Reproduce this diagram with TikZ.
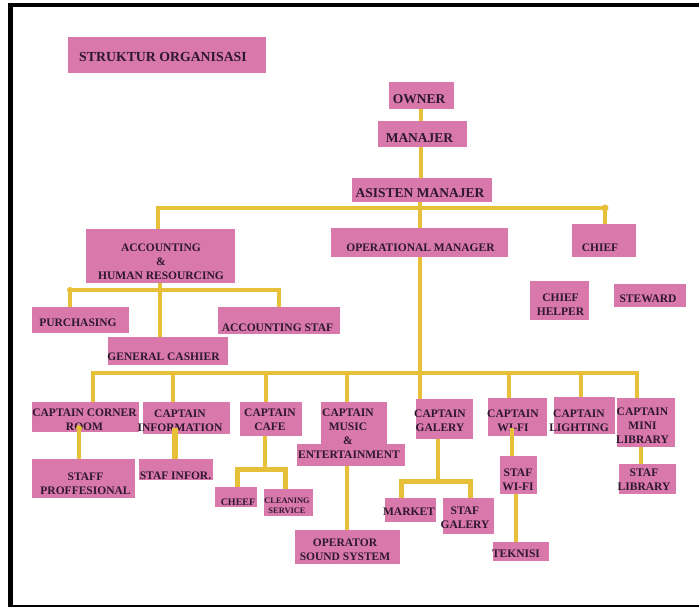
\documentclass[tikz,border=0pt]{standalone}
\usepackage{fontspec}
\setmainfont{Liberation Serif}
\usetikzlibrary{calc}
\definecolor{pinkc}{RGB}{217,120,171}
\definecolor{yel}{RGB}{229,192,56}
\definecolor{txt}{RGB}{45,24,45}
\newcommand\ftitle{\fontsize{13.8}{15}\selectfont\bfseries}
\newcommand\fbig{\fontsize{13.5}{15}\selectfont\bfseries}
\newcommand\fmid{\fontsize{11.5}{13.9}\selectfont\bfseries}
\newcommand\fsmall{\fontsize{10}{12}\selectfont\bfseries}
\newcommand\ftiny{\fontsize{8.4}{10}\selectfont\bfseries}
\tikzset{
  box/.style={fill=pinkc, inner sep=0pt, draw=none},
  lab/.style={inner sep=0pt, align=center, text=txt, font=\fmid},
  conn/.style={draw=yel, line width=4pt, line join=miter},
}
% \bxx[label options]{name}{x1}{y1}{x2}{y2}{text x}{text y}{text}
\newcommand\bxx[9][]{%
  \node[box, minimum width={#5-#3}, minimum height={#6-#4}] (#2) at ({(#3+#5)/2},{(#4+#6)/2}) {};
  \node[lab,#1] (#2-t) at (#7,#8) {#9};}
\begin{document}
\begin{tikzpicture}[x=1pt,y=-1pt]
\useasboundingbox (0,0) rectangle (699,607);
\fill[white] (0,0) rectangle (699,607);
\fill[black] (8,3) rectangle (699,7.5);
\fill[black] (8,3) rectangle (12.5,607);
\fill[black] (8,604.5) rectangle (699,607);

\bxx[font=\ftitle]{title}{68}{37}{266}{73}{163}{57}{STRUKTUR ORGANISASI}
\bxx[font=\fbig]{owner}{389}{82}{454}{109}{419}{99}{OWNER}
\bxx[font=\fbig]{manajer}{378}{121}{467}{147}{419.5}{138}{MANAJER}
\bxx[font=\fbig]{asisten}{352}{178}{492}{202}{420}{193}{ASISTEN MANAJER}
\bxx{acc}{86}{229}{235}{283}{161}{262}{ACCOUNTING\\\&\\HUMAN RESOURCING}
\bxx{opm}{331}{228}{508}{257}{420.5}{247.5}{OPERATIONAL MANAGER}
\bxx{chief}{572}{224}{636}{257}{600}{248}{CHIEF}
\bxx{purch}{32}{307}{129}{333}{78}{323}{PURCHASING}
\bxx{accstaf}{218}{307}{340}{334}{277.5}{327.5}{ACCOUNTING STAF}
\bxx{gcash}{108}{337}{228}{365}{163.5}{357}{GENERAL CASHIER}
\bxx{chelper}{530}{281}{589}{320}{560.5}{304.5}{CHIEF\\HELPER}
\bxx{steward}{614}{284}{686}{307}{648}{299}{STEWARD}
\bxx{ccr}{32}{402}{139}{432}{84.5}{420}{CAPTAIN CORNER\\ROOM}
\bxx{cinfo}{143}{402}{230}{434}{180}{420.5}{CAPTAIN\\INFORMATION}
\bxx{ccafe}{240}{402}{302}{436}{270}{420}{CAPTAIN\\CAFE}
\bxx{musicb}{297}{444}{405}{466}{349}{454.5}{ENTERTAINMENT}
\bxx{music}{321}{402}{387}{445}{348}{427}{CAPTAIN\\MUSIC\\\&}
\bxx{cgal}{416}{399}{473}{439}{440}{420.5}{CAPTAIN\\GALERY}
\bxx{cwifi}{488}{398}{547}{436}{513}{420.5}{CAPTAIN\\WI-FI}
\bxx{clight}{554}{397}{615}{434}{579}{420.5}{CAPTAIN\\LIGHTING}
\bxx{clib}{617}{398}{675}{447}{642.5}{426}{CAPTAIN\\MINI\\LIBRARY}
\bxx{staffprof}{32}{459}{135}{498}{85.5}{483.5}{STAFF\\PROFFESIONAL}
\bxx{stafinfo}{139}{459}{213}{480}{175.5}{476}{STAF INFOR.}
\bxx[font=\fsmall]{cheef}{215}{487}{257}{507}{238}{502}{CHEEF}
\bxx[font=\ftiny]{cleaning}{264}{489}{313}{516}{287}{506}{CLEANING\\SERVICE}
\bxx{operator}{295}{530}{400}{564}{345}{549.5}{OPERATOR\\SOUND SYSTEM}
\bxx{market}{385}{498}{436}{522}{409}{511.5}{MARKET}
\bxx{stafgal}{443}{498}{494}{534}{465}{518}{STAF\\GALERY}
\bxx{stafwifi}{500}{456}{537}{494}{518}{479.5}{STAF\\WI-FI}
\bxx{teknisi}{493}{542}{549}{561}{516}{553.5}{TEKNISI}
\bxx{staflib}{619}{464}{676}{494}{644}{479.5}{STAF\\LIBRARY}

% top chain
\draw[conn] (owner.south -| 421,0) -- (manajer.north -| 421,0);
\draw[conn] (manajer.south -| 421,0) -- (asisten.north -| 421,0);
\draw[conn,line width=4.5pt] (asisten.south -| 420,0) -- (opm.north -| 420,0);
\coordinate (b1L) at (158,208);
\coordinate (b1R) at (605,208);
\draw[conn] (acc.north -| b1L) -- (b1L) -- (b1R) -- (chief.north -| b1R);
\fill[yel] (b1R) circle (3.5pt);
% accounting group
\coordinate (b2L) at (70,290);
\coordinate (b2R) at (279,290);
\draw[conn] (purch.north -| b2L) -- (b2L) -- (b2R) -- (accstaf.north -| b2R);
\draw[conn] (acc.south -| 160,0) -- (gcash.north -| 160,0);
\fill[yel] (b2L) circle (3pt);
% operational group
\coordinate (b3L) at (93,373);
\coordinate (b3R) at (637,373);
\coordinate (b3M) at (420,373);
\draw[conn] (opm.south -| b3M) -- (b3M);
\draw[conn] (ccr.north -| b3L) -- (b3L) -- (b3R) -- (clib.north -| b3R);
\foreach \n/\xx in {cinfo/173, ccafe/266, music/347, cgal/420, cwifi/509, clight/581}
  \draw[conn] (\xx,373) -- (\n.north -| \xx,0);
% captains to staff
\draw[conn] ($(ccr.south -| 79,0)+(0,-4)$) -- (staffprof.north -| 79,0);
\fill[yel] ($(ccr.south -| 79,0)+(0,-4)$) circle (3pt);
\draw[conn,line width=6pt] ($(cinfo.south -| 175,0)+(0,-6)$) -- (stafinfo.north -| 175,0);
\coordinate (cafeM) at (265,469.5);
\draw[conn] (ccafe.south -| cafeM) -- (cafeM);
\draw[conn,line width=5pt] (cheef.north -| 237,0) -- (237,469.5) -- (285,469.5) -- (cleaning.north -| 285,0);
\draw[conn] (musicb.south -| 347,0) -- (operator.north -| 347,0);
\coordinate (galM) at (438,481.5);
\draw[conn] (cgal.south -| galM) -- (galM);
\draw[conn,line width=5pt] (market.north -| 401,0) -- (401,481.5) -- (470,481.5) -- (stafgal.north -| 470,0);
\draw[conn] ($(cwifi.south -| 512,0)+(0,-8)$) -- (stafwifi.north -| 512,0);
\draw[conn] (stafwifi.south -| 516,0) -- (teknisi.north -| 516,0);
\draw[conn] (clib.south -| 641,0) -- (staflib.north -| 641,0);
\end{tikzpicture}
\end{document}
